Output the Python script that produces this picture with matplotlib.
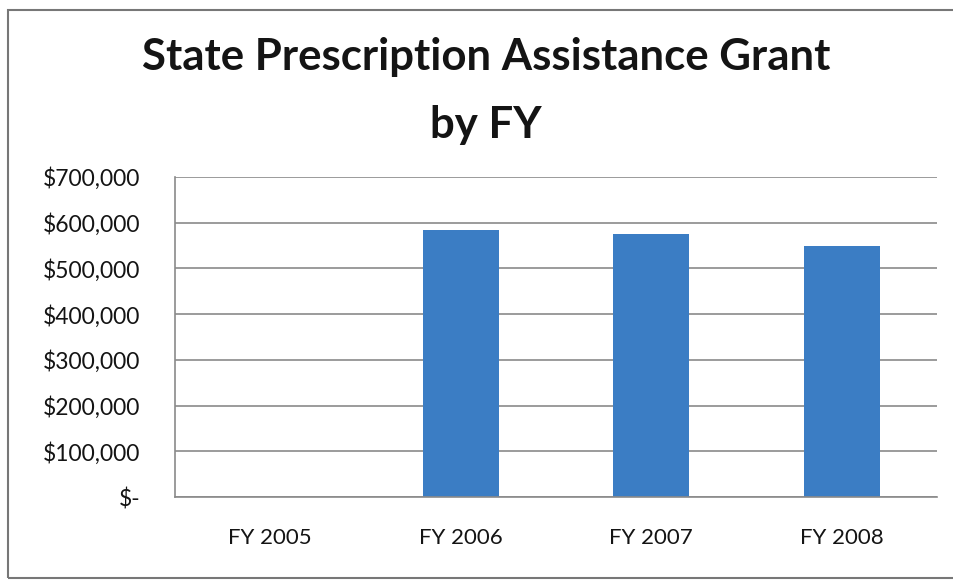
import matplotlib
matplotlib.use("Agg")
import matplotlib.pyplot as plt
from matplotlib.patches import Rectangle
from matplotlib.ticker import FuncFormatter

# Grant amounts by fiscal year (FY 2005 had no grant)
YEARS = ["FY 2005", "FY 2006", "FY 2007", "FY 2008"]
GRANTS = [0, 583000, 575000, 548000]
Y_TICKS = [0, 100000, 200000, 300000, 400000, 500000, 600000, 700000]

BAR_COLOR = "#3B7DC4"
GRID_COLOR = "#8a8a8a"
TEXT_COLOR = "#141414"

plt.rcParams["font.family"] = ["Lato", "DejaVu Sans"]


def dollars(v, _pos):
    if v == 0:
        return "$-"
    return f"${v:,.0f}"


fig = plt.figure(figsize=(9.54, 5.82), dpi=100)
ax = fig.add_axes([0.1834, 0.146, 0.7988, 0.5499])

ax.bar(range(len(YEARS)), GRANTS, width=0.4, color=BAR_COLOR, zorder=2)

ax.set_xlim(-0.5, len(YEARS) - 0.5)
ax.set_ylim(0, 700000)
ax.set_yticks(Y_TICKS)
ax.yaxis.set_major_formatter(FuncFormatter(dollars))
ax.set_xticks(range(len(YEARS)))
ax.set_xticklabels(YEARS)
ax.tick_params(axis="y", length=0, labelsize=16.5, colors=TEXT_COLOR, pad=25)
ax.tick_params(axis="x", length=0, labelsize=16, colors=TEXT_COLOR, pad=22)

ax.grid(axis="y", color=GRID_COLOR, linewidth=1.2, zorder=1)
for side in ("top", "right"):
    ax.spines[side].set_visible(False)
for side in ("left", "bottom"):
    ax.spines[side].set_color(GRID_COLOR)
    ax.spines[side].set_linewidth(1.2)

fig.text(0.5096, 0.902, "State Prescription Assistance Grant", ha="center", va="center",
         fontsize=31.5, fontweight="bold", color=TEXT_COLOR)
fig.text(0.5096, 0.785, "by FY", ha="center", va="center",
         fontsize=31.5, fontweight="bold", color=TEXT_COLOR)

# chart frame, right edge runs off the page
fig.patches.append(Rectangle((8 / 954, 4 / 582), 1.0, 568 / 582, transform=fig.transFigure,
                             fill=False, edgecolor="#777777", linewidth=1.5))

fig.savefig("out.png", dpi=100)
